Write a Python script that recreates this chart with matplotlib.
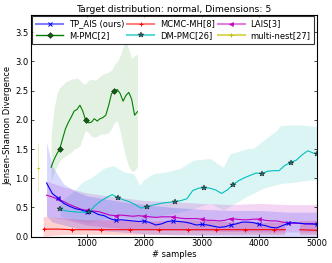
import numpy as np
import matplotlib
matplotlib.use('Agg')
import matplotlib.pyplot as plt
from matplotlib.lines import Line2D

# TP_AIS (ours)
tp_x = np.arange(300, 5001, 100)
tp_y = [0.92, 0.74, 0.66, 0.57, 0.52, 0.48, 0.46, 0.42, 0.43, 0.38,
        0.36, 0.31, 0.28, 0.29, 0.28, 0.27, 0.26, 0.27, 0.24, 0.20,
        0.22, 0.26, 0.27, 0.26, 0.25, 0.23, 0.20, 0.21, 0.20, 0.18,
        0.16, 0.17, 0.20, 0.22, 0.25, 0.25, 0.24, 0.21, 0.19, 0.16,
        0.15, 0.19, 0.23, 0.24, 0.23, 0.22, 0.22, 0.21]
tp_bx = [300, 400, 600, 800, 1000, 1300, 1600, 2000, 2500, 3000, 3500, 4000, 4500, 5000]
tp_lo = [0.35, 0.25, 0.20, 0.15, 0.12, 0.10, 0.08, 0.05, 0.03, 0.02, 0.01, 0.0, 0.0, 0.0]
tp_hi = [1.62, 1.20, 0.90, 0.78, 0.70, 0.65, 0.60, 0.55, 0.50, 0.47, 0.45, 0.45, 0.42, 0.42]

# MCMC-MH[8]
mh_x = [250, 500, 750, 1000, 1250, 1500, 1750, 2000, 2250, 2500, 2750, 3000,
        3250, 3500, 3750, 4000, 4250, 4450, 4550, 4700, 5000]
mh_y = [0.13, 0.13, 0.12, 0.12, 0.12, 0.12, 0.12, 0.12, 0.12, 0.12, 0.12, 0.12,
        0.12, 0.12, 0.12, 0.12, 0.12, 0.12, np.nan, 0.12, 0.11]
mh_lo = [0.0, 0.02, 0.03, 0.03, 0.03, 0.03, 0.03, 0.03, 0.03, 0.03, 0.03, 0.03,
         0.03, 0.03, 0.03, 0.03, 0.03, 0.03, np.nan, 0.03, 0.03]
mh_hi = [0.34, 0.32, 0.30, 0.28, 0.28, 0.28, 0.27, 0.26, 0.26, 0.27, 0.28, 0.28,
         0.26, 0.25, 0.25, 0.24, 0.24, 0.24, np.nan, 0.27, 0.27]

# LAIS[3]
la_x = np.arange(300, 5001, 100)
la_y = [0.71, 0.68, 0.64, 0.60, 0.55, 0.51, 0.47, 0.45, 0.44, 0.43,
        0.40, 0.37, 0.36, 0.37, 0.36, 0.35, 0.36, 0.35, 0.34, 0.33,
        0.34, 0.34, 0.34, 0.32, 0.31, 0.31, 0.31, 0.30, 0.28, 0.28,
        0.27, 0.28, 0.31, 0.30, 0.29, 0.29, 0.30, 0.30, 0.28, 0.27,
        0.27, 0.25, 0.24, 0.23, 0.23, 0.22, 0.22, 0.22]
la_bx = [300, 600, 1000, 1500, 2000, 2500, 3000, 3500, 4000, 4500, 5000]
la_lo = [0.35, 0.30, 0.20, 0.15, 0.12, 0.11, 0.10, 0.09, 0.08, 0.08, 0.08]
la_hi = [0.95, 0.85, 0.75, 0.68, 0.62, 0.60, 0.57, 0.55, 0.57, 0.55, 0.55]

# M-PMC[2]
mp_x = np.arange(380, 1881, 50)
mp_y = [1.19, 1.32, 1.42, 1.50, 1.68, 1.85, 1.96, 2.05, 2.15, 2.18,
        2.25, 2.15, 1.99, 1.95, 1.96, 2.02, 1.98, 2.02, 2.04, 2.08,
        2.25, 2.45, 2.49, 2.52, 2.45, 2.32, 2.42, 2.47, 2.35, 2.08, 2.14]
mp_lo = [0.95, 1.10, 1.20, 1.30, 1.35, 1.38, 1.42, 1.45, 1.50, 1.52,
         1.55, 1.70, 1.82, 1.78, 1.72, 1.70, 1.72, 1.75, 1.76, 1.76,
         1.78, 1.85, 1.95, 1.98, 1.80, 1.55, 1.35, 1.20, 1.12, 1.13, 1.20]
mp_hi = [1.75, 2.20, 2.45, 2.55, 2.60, 2.65, 2.67, 2.70, 2.70, 2.72,
         2.68, 2.62, 2.62, 2.68, 2.70, 2.68, 2.70, 2.75, 2.78, 2.80,
         2.82, 2.85, 2.95, 3.00, 3.10, 3.25, 3.35, 3.20, 3.05, 3.10, 3.12]

# DM-PMC[26]
dm_x = list(range(540, 5000, 100)) + [5000]
dm_y = [0.47, 0.44, 0.43, 0.42, 0.42, 0.42, 0.53, 0.61, 0.67, 0.72,
        0.67, 0.63, 0.60, 0.55, 0.49, 0.51, 0.54, 0.56, 0.58, 0.59,
        0.60, 0.62, 0.65, 0.79, 0.83, 0.84, 0.83, 0.80, 0.74, 0.80,
        0.89, 0.96, 1.01, 1.05, 1.09, 1.08, 1.12, 1.13, 1.13, 1.22,
        1.27, 1.31, 1.40, 1.47, 1.43, 1.42]
dm_bx = [540, 740, 940, 1060, 1290, 1460, 1640, 1810, 1925, 1980, 2160, 2390,
         2620, 2850, 3140, 3370, 3490, 3800, 3890, 4070, 4300, 4360, 4590, 4880, 5000]
dm_lo = [0.35, 0.30, 0.26, 0.25, 0.30, 0.35, 0.34, 0.31, 0.30, 0.30, 0.33, 0.38,
         0.42, 0.48, 0.57, 0.46, 0.52, 0.70, 0.74, 0.83, 0.89, 0.91, 0.93, 0.97, 0.97]
dm_hi = [0.60, 0.75, 0.95, 1.00, 1.17, 1.22, 1.11, 1.08, 0.88, 0.97, 1.08, 1.11,
         1.17, 1.31, 1.34, 1.19, 1.42, 1.51, 1.51, 1.65, 1.82, 1.90, 1.92, 1.90, 1.88]

# multi-nest[27]
mn_x = [150, 175]
mn_y = [1.16, 1.17]
mn_lo = [0.78, 0.78]
mn_hi = [1.58, 1.58]

names = ['TP_AIS (ours)', 'M-PMC[2]', 'MCMC-MH[8]', 'DM-PMC[26]', 'LAIS[3]', 'multi-nest[27]']

blue = '#0000ff'
red = '#ff0000'
mag = '#bf00bf'
green = '#008000'
cyan = '#00bfbf'
yel = '#bfbf00'

plt.rcParams['font.family'] = 'DejaVu Sans'
fig = plt.figure(figsize=(3.32, 2.63), dpi=100)
ax = fig.add_axes([0.0934, 0.1, 0.8614, 0.844])

ax.fill_between(mp_x, mp_lo, mp_hi, color=green, alpha=0.11, lw=0)
ax.fill_between(dm_bx, dm_lo, dm_hi, color=cyan, alpha=0.14, lw=0)
ax.fill_between(mh_x, mh_lo, mh_hi, color=red, alpha=0.18, lw=0)
ax.fill_between(la_bx, la_lo, la_hi, color=mag, alpha=0.16, lw=0)
ax.fill_between(tp_bx, tp_lo, tp_hi, color=blue, alpha=0.15, lw=0)
ax.fill_between(mn_x, mn_lo, mn_hi, color=yel, alpha=0.3, lw=0)

ax.plot(mh_x, mh_y, color=red, lw=0.8, marker='+', ms=3.5, mew=0.7, markevery=2)
ax.plot(la_x, la_y, color=mag, lw=0.8, marker='<', ms=3, mew=0.3, mec=mag, markevery=(2, 5))
ax.plot(tp_x, tp_y, color=blue, lw=0.8, marker='x', ms=3, mew=0.7, markevery=(2, 5))
ax.plot(dm_x, dm_y, color=cyan, lw=0.8, marker='*', ms=3.8, mew=0.3, mec='k',
        mfc='#207070', markevery=5)
ax.plot(mp_x, mp_y, color=green, lw=0.8, marker='D', ms=3, mew=0.3, mec='k',
        mfc='#106010', markevery=[3, 12, 22])
ax.plot(mn_x, mn_y, color=yel, lw=0.8)

handles = [
    Line2D([], [], color='#8080ff', lw=1.5, marker='x', ms=3, mew=0.7, mec=blue),
    Line2D([], [], color=green, lw=1.0, marker='D', ms=3, mew=0.3, mec='k', mfc='#106010'),
    Line2D([], [], color='#ff8080', lw=1.5, marker='+', ms=3.5, mew=0.7, mec=red),
    Line2D([], [], color='#60d8d8', lw=1.5, marker='*', ms=3.8, mew=0.3, mec='k', mfc='#207070'),
    Line2D([], [], color='#e080e0', lw=1.5, marker='<', ms=3, mew=0.3, mec=mag, mfc=mag),
    Line2D([], [], color='#d8d860', lw=1.5, marker='+', ms=3.5, mew=0.7, mec=yel),
]
leg = ax.legend(handles, names, ncol=3, loc='upper left', bbox_to_anchor=(0.005, 0.995, 0.985, 0),
                mode='expand', fontsize=6, frameon=True, fancybox=False, borderpad=0.45,
                handlelength=3.2, labelspacing=0.32, columnspacing=1.0, handletextpad=0.7,
                borderaxespad=0.0)
leg.get_frame().set_edgecolor('k')
leg.get_frame().set_linewidth(0.8)

ax.set_xlim(30, 5000)
ax.set_ylim(0, 3.8)
ax.set_xticks([1000, 2000, 3000, 4000, 5000])
ax.set_yticks(np.arange(0, 3.6, 0.5))
ax.yaxis.set_major_formatter(matplotlib.ticker.FormatStrFormatter('%.1f'))
ax.tick_params(direction='in', top=True, right=True, length=2.5, width=0.5, labelsize=6, pad=2)
for s in ax.spines.values():
    s.set_linewidth(0.8)
ax.set_xlabel('# samples', fontsize=6, labelpad=1)
ax.set_ylabel('Jensen-Shannon Divergence', fontsize=6, labelpad=2)
ax.set_title('Target distribution: normal, Dimensions: 5', fontsize=6.7, pad=2)

fig.savefig('out.png', dpi=100)
